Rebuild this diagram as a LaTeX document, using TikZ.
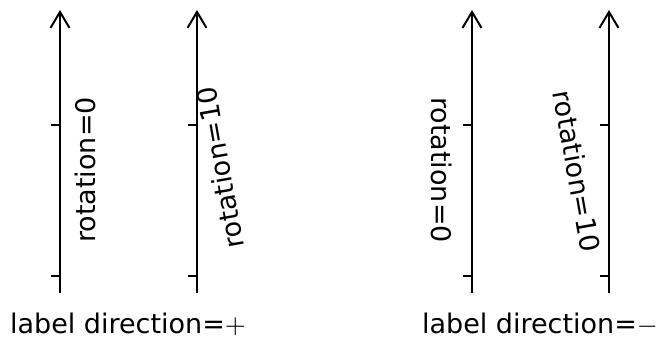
\documentclass[tikz,border=0pt]{standalone}
\usepackage{fontspec}
\setmainfont{DejaVu Sans}
\usetikzlibrary{arrows.meta}
\newcommand{\bigmath}[1]{{\fontsize{10}{12}\selectfont\scalebox{2.7}{$#1$}}}
\tikzset{
  axisline/.style={line width=2pt, -{Straight Barb[length=16pt,width=19pt,line width=2pt]}},
  tickline/.style={line width=1.8pt},
  lbl/.style={font=\fontsize{27}{32}\selectfont, inner sep=0pt},
}
\begin{document}
\begin{tikzpicture}[x=1pt,y=-1pt]
\useasboundingbox (0,0) rectangle (657,339);
% axes
\foreach \n/\x in {a/60,b/197,c/472,d/609}{
  \coordinate (\n bot) at (\x,293);
  \coordinate (\n top) at (\x,10);
  \draw[axisline] (\n bot) -- (\n top);
  \coordinate (\n t1) at (\x,125);
  \coordinate (\n t2) at (\x,276);
  \draw[tickline] (\n t1) -- ++(-9,0);
  \draw[tickline] (\n t2) -- ++(-9,0);
}
\node[lbl, rotate=90] (l1) at (85,170) {rotation=0};
\node[lbl, rotate=100] (l2) at (220,168) {rotation=10};
\node[lbl, rotate=-90] (l3) at (442,170) {rotation=0};
\node[lbl, rotate=-80] (l4) at (577,171) {rotation=10};
\node[lbl] (b1) at (128,324) {label direction=\bigmath{+}};
\node[lbl] (b2) at (540,324) {label direction=\bigmath{-}};
\end{tikzpicture}
\end{document}
